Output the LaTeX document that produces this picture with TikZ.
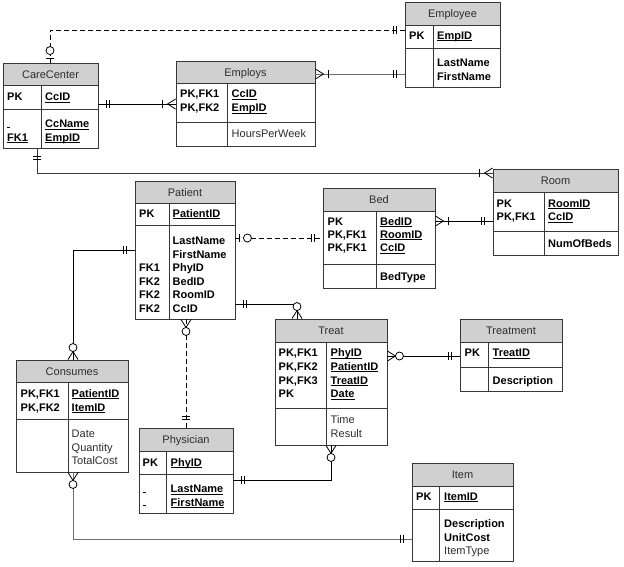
\documentclass[tikz,border=0pt]{standalone}
\usepackage{fontspec}
\setmainfont{Liberation Sans}
\usetikzlibrary{fit}
\definecolor{hdrgray}{RGB}{208,208,208}
\definecolor{boxline}{RGB}{55,55,55}
\definecolor{ttlcol}{RGB}{45,45,45}
\definecolor{lngray}{RGB}{110,110,110}
\newsavebox\ulbox
\newcommand{\uln}[1]{\sbox\ulbox{#1}\rlap{\rule[-2pt]{\wd\ulbox}{0.8pt}}\usebox\ulbox}
\newcommand{\dsh}{\rule{3pt}{0.8pt}}
\newcommand{\entity}[9]{%
  \fill[hdrgray] (#2,#3) rectangle (#4,#6);
  \draw[sep] (#2,#6) -- (#4,#6) (#2,#7) -- (#4,#7) (#8,#6) -- (#8,#5);
  \node[ebox, fit={(#2,#3) (#4,#5)}] (#1) {};
  \node[ttl] (#1-title) at ({(#2+#4)/2},{(#3+#6)/2+4}) {#9};
}
\newcommand{\fb}[4]{\node[fld] (#1) at (#2,#3) {#4};}
\newcommand{\fn}[4]{\node[fldn] (#1) at (#2,#3) {#4};}
\tikzset{
  ebox/.style={draw=boxline, line width=0.9pt, inner sep=0pt},
  sep/.style={draw=boxline, line width=0.9pt},
  ttl/.style={anchor=base, inner sep=0pt, text=ttlcol, font=\fontsize{11}{13}\selectfont},
  fld/.style={anchor=base west, inner sep=0pt, font=\fontsize{11}{13}\selectfont\bfseries},
  fldn/.style={anchor=base west, inner sep=0pt, text=ttlcol, font=\fontsize{11}{13}\selectfont},
  conn/.style={line width=0.8pt},
  dashconn/.style={conn, dash pattern=on 5pt off 3pt},
  onlyone/.pic={\draw[line width=0.8pt] (8,-4)--(8,4) (11,-4)--(11,4);},
  zeroone/.pic={\draw[line width=0.8pt] (4,-4)--(4,4); \draw[line width=0.8pt, fill=white] (12,0) circle[radius=4pt];},
  onemany/.pic={\draw[line width=0.8pt] (0,-5)--(8,0)--(0,5) (13,-4)--(13,4);},
  zeromany/.pic={\draw[line width=0.8pt] (0,-5)--(8,0)--(0,5); \draw[line width=0.8pt, fill=white] (12,0) circle[radius=4pt];}
}
\begin{document}
\begin{tikzpicture}[x=1pt,y=-1pt]
\useasboundingbox[fill=white] (0,0) rectangle (624,566);

% ---------- entities ----------
\entity{employee}{405}{2}{500}{87}{25}{48}{433}{Employee}
\entity{carecenter}{3}{63}{98}{148}{85}{109}{41}{CareCenter}
\entity{employs}{176}{61}{315}{146}{83}{122}{227}{Employs}
\entity{patient}{135}{181}{235}{319}{203}{225}{169}{Patient}
\entity{bed}{323}{188}{435}{288}{211}{264}{376}{Bed}
\entity{room}{493}{169}{618}{255}{192}{231}{544}{Room}
\entity{consumes}{16}{360}{128}{472}{382}{419}{68}{Consumes}
\entity{physician}{139}{428}{233}{513}{451}{474}{166}{Physician}
\entity{treat}{275}{319}{387}{445}{342}{408}{326}{Treat}
\entity{treatment}{460}{319}{562}{391}{342}{367}{488}{Treatment}
\entity{item}{412}{463}{513}{561}{486}{509}{439}{Item}

% ---------- fields ----------
% Employee
\fb{emp-pk}{409}{39}{PK}
\fb{emp-id}{437}{39}{\uln{EmpID}}
\fb{emp-ln}{437}{66.5}{LastName}
\fb{emp-fn}{437}{80}{FirstName}
% CareCenter
\fb{cc-pk}{7}{100.5}{PK}
\fb{cc-id}{45}{100.5}{\uln{CcID}}
\fb{cc-d}{7}{127.5}{\dsh}
\fb{cc-fk}{7}{141}{\uln{FK1}}
\fb{cc-nm}{45}{127.5}{\uln{CcName}}
\fb{cc-emp}{45}{141}{\uln{EmpID}}
% Employs
\fb{es-k1}{180}{97.5}{PK,FK1}
\fb{es-k2}{180}{111.5}{PK,FK2}
\fb{es-cc}{231.5}{97.5}{\uln{CcID}}
\fb{es-emp}{231.5}{111.5}{\uln{EmpID}}
\fn{es-h}{231.5}{137.5}{HoursPerWeek}
% Patient
\fb{pa-pk}{139}{217}{PK}
\fb{pa-id}{172.5}{217}{\uln{PatientID}}
\fb{pa-ln}{172.5}{244.5}{LastName}
\fb{pa-fn}{172.5}{258}{FirstName}
\fb{pa-ph}{172.5}{271.5}{PhyID}
\fb{pa-bd}{172.5}{285}{BedID}
\fb{pa-rm}{172.5}{298.5}{RoomID}
\fb{pa-cc}{172.5}{312}{CcID}
\fb{pa-f1}{139}{271.5}{FK1}
\fb{pa-f2}{139}{285}{FK2}
\fb{pa-f3}{139}{298.5}{FK2}
\fb{pa-f4}{139}{312}{FK2}
% Bed
\fb{bd-k1}{327.5}{225}{PK}
\fb{bd-k2}{327.5}{238}{PK,FK1}
\fb{bd-k3}{327.5}{251.5}{PK,FK1}
\fb{bd-id}{380}{225}{\uln{BedID}}
\fb{bd-rm}{380}{238}{\uln{RoomID}}
\fb{bd-cc}{380}{251.5}{\uln{CcID}}
\fb{bd-ty}{380}{280}{BedType}
% Room
\fb{rm-k1}{496.5}{207}{PK}
\fb{rm-k2}{496.5}{220.5}{PK,FK1}
\fb{rm-id}{548}{207}{\uln{RoomID}}
\fb{rm-cc}{548}{220.5}{\uln{CcID}}
\fb{rm-nb}{548}{247.5}{NumOfBeds}
% Consumes
\fb{co-k1}{20.5}{397}{PK,FK1}
\fb{co-k2}{20.5}{411}{PK,FK2}
\fb{co-pa}{71.5}{397}{\uln{PatientID}}
\fb{co-it}{71.5}{411}{\uln{ItemID}}
\fn{co-dt}{71.5}{437.5}{Date}
\fn{co-qt}{71.5}{451}{Quantity}
\fn{co-tc}{71.5}{464.5}{TotalCost}
% Physician
\fb{ph-pk}{142.5}{466}{PK}
\fb{ph-id}{170.5}{466}{\uln{PhyID}}
\fb{ph-d1}{143}{492.5}{\dsh}
\fb{ph-d2}{143}{506}{\dsh}
\fb{ph-ln}{170.5}{492.5}{\uln{LastName}}
\fb{ph-fn}{170.5}{506}{\uln{FirstName}}
% Treat
\fb{tr-k1}{278.5}{356.5}{PK,FK1}
\fb{tr-k2}{278.5}{370}{PK,FK2}
\fb{tr-k3}{278.5}{384}{PK,FK3}
\fb{tr-k4}{278.5}{397.5}{PK}
\fb{tr-ph}{330.5}{356.5}{\uln{PhyID}}
\fb{tr-pa}{330.5}{370}{\uln{PatientID}}
\fb{tr-ti}{330.5}{384}{\uln{TreatID}}
\fb{tr-dt}{330.5}{397.5}{\uln{Date}}
\fn{tr-tm}{330.5}{423.5}{Time}
\fn{tr-rs}{330.5}{437.5}{Result}
% Treatment
\fb{tm-pk}{464.5}{356.5}{PK}
\fb{tm-id}{492.5}{356.5}{\uln{TreatID}}
\fb{tm-ds}{492.5}{384}{Description}
% Item
\fb{it-pk}{416}{500}{PK}
\fb{it-id}{444}{500}{\uln{ItemID}}
\fb{it-ds}{444}{527}{Description}
\fb{it-uc}{444}{541}{UnitCost}
\fn{it-ty}{444}{554.5}{ItemType}

% ---------- connectors ----------
% CareCenter -- Employee (dashed)
\draw[dashconn] (employee.west |- 0,30) -| (carecenter.north -| 50,0);
\pic[rotate=180] at (employee.west |- 0,30) {onlyone};
\pic[rotate=90] at (carecenter.north -| 50,0) {zeroone};
% CareCenter -- Employs
\draw[conn] (carecenter.east |- 0,104) -- (employs.west |- 0,104);
\pic at (carecenter.east |- 0,104) {onlyone};
\pic[rotate=180] at (employs.west |- 0,104) {onemany};
% Employs -- Employee
\draw[conn, draw=lngray] (employs.east |- 0,74) -- (employee.west |- 0,74);
\pic at (employs.east |- 0,74) {onemany};
\pic[rotate=180] at (employee.west |- 0,74) {onlyone};
% CareCenter -- Room
\draw[conn, draw=boxline] (carecenter.south -| 37,0) |- (room.west |- 0,173);
\pic[rotate=-90] at (carecenter.south -| 37,0) {onlyone};
\pic[rotate=180] at (room.west |- 0,173) {onemany};
% Patient -- Bed (dashed)
\draw[dashconn] (patient.east |- 0,238) -- (bed.west |- 0,238);
\pic at (patient.east |- 0,238) {zeroone};
\pic[rotate=180] at (bed.west |- 0,238) {onlyone};
% Bed -- Room
\draw[conn] (bed.east |- 0,221) -- (room.west |- 0,221);
\pic at (bed.east |- 0,221) {onemany};
\pic[rotate=180] at (room.west |- 0,221) {onlyone};
% Patient -- Consumes
\draw[conn] (patient.west |- 0,250) -| (consumes.north -| 73,0);
\pic[rotate=180] at (patient.west |- 0,250) {onlyone};
\pic[rotate=90] at (consumes.north -| 73,0) {zeromany};
% Patient -- Physician (dashed)
\draw[dashconn] (patient.south -| 186,0) -- (physician.north -| 186,0);
\pic[rotate=-90] at (patient.south -| 186,0) {zeromany};
\pic[rotate=90] at (physician.north -| 186,0) {onlyone};
% Patient -- Treat
\draw[conn] (patient.east |- 0,304) -| (treat.north -| 297,0);
\pic at (patient.east |- 0,304) {onlyone};
\pic[rotate=90] at (treat.north -| 297,0) {zeromany};
% Treat -- Treatment
\draw[conn] (treat.east |- 0,356) -- (treatment.west |- 0,356);
\pic at (treat.east |- 0,356) {zeromany};
\pic[rotate=180] at (treatment.west |- 0,356) {onlyone};
% Physician -- Treat
\draw[conn] (physician.east |- 0,480) -| (treat.south -| 331,0);
\pic at (physician.east |- 0,480) {onlyone};
\pic[rotate=-90] at (treat.south -| 331,0) {zeromany};
% Consumes -- Item
\draw[conn, draw=lngray] (consumes.south -| 73,0) |- (item.west |- 0,539);
\pic[rotate=-90] at (consumes.south -| 73,0) {zeromany};
\pic[rotate=180] at (item.west |- 0,539) {onlyone};
\end{tikzpicture}
\end{document}
